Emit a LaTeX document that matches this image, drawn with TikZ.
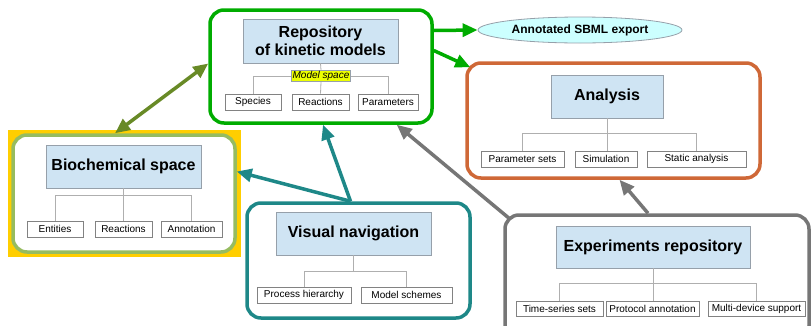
\documentclass[tikz,border=0pt]{standalone}
\usepackage{fontspec}
\setmainfont{Liberation Sans}
\usetikzlibrary{arrows.meta,shapes.geometric}
\definecolor{repogreen}{RGB}{0,172,0}
\definecolor{anaorange}{RGB}{207,104,55}
\definecolor{biogreen}{RGB}{150,188,96}
\definecolor{bioyellow}{RGB}{255,206,0}
\definecolor{navteal}{RGB}{30,136,136}
\definecolor{expgray}{RGB}{118,118,118}
\definecolor{olivearr}{RGB}{104,138,38}
\definecolor{headblue}{RGB}{207,228,243}
\definecolor{headline}{RGB}{150,160,170}
\definecolor{leafline}{RGB}{130,130,130}
\definecolor{treeline}{RGB}{175,175,175}
\definecolor{ellfill}{RGB}{204,255,255}
\definecolor{tagyellow}{RGB}{236,255,0}
\tikzset{
  frame/.style={draw,fill=white,rounded corners=14pt,line width=3.5pt,inner sep=0pt},
  headbox/.style={draw=headline,fill=headblue,line width=0.8pt,align=center,
                  font=\fontsize{16}{18}\selectfont\bfseries,inner sep=0pt},
  leaf/.style={draw=leafline,fill=white,line width=0.8pt,font=\fontsize{10}{12}\selectfont,
               inner sep=0pt,minimum height=16pt},
  tree/.style={draw=treeline,line width=0.8pt},
  link/.style={-{Triangle[length=15pt,width=13pt]},line width=3.5pt},
}

\begin{document}
\begin{tikzpicture}[x=1pt,y=-1pt]
\clip (0,0) rectangle (812,325);
% frames
\node[fill=bioyellow,minimum width=233pt,minimum height=127pt] (bioback) at (124.5,193.5) {};
\node[frame,draw=biogreen,minimum width=222pt,minimum height=117pt] (bio) at (124,193.5) {};
\node[frame,draw=repogreen,minimum width=222pt,minimum height=113pt] (repo) at (321,66.5) {};
\node[frame,draw=anaorange,minimum width=293pt,minimum height=115pt] (ana) at (613.5,120.5) {};
\node[frame,draw=navteal,minimum width=223pt,minimum height=115pt] (nav) at (358.5,260.5) {};
\node[frame,draw=expgray,minimum width=304pt,minimum height=125pt] (exp) at (657,277.5) {};
\node[ellipse,draw=headline,fill=ellfill,line width=0.8pt,minimum width=204pt,minimum height=26pt,
      inner sep=0pt,font=\fontsize{12}{14}\selectfont\bfseries] (sbml) at (580,30) {Annotated SBML export};
% repository of kinetic models
\node[headbox,minimum width=155pt,minimum height=44pt] (repot) at (320.5,41) {Repository\\of kinetic models};
\node[draw=headline,fill=tagyellow,line width=0.6pt,inner sep=1pt,minimum height=10pt,
      font=\fontsize{10}{12}\selectfont\itshape] (mspace) at (321,76) {Model space};
\node[leaf,minimum width=56pt] (spec) at (253,102) {Species};
\node[leaf,minimum width=57pt] (reac) at (320.5,102) {Reactions};
\node[leaf,minimum width=60pt] (par) at (388,102) {Parameters};
\draw[tree] (repot.south) -- (mspace.north);
\draw[tree] (mspace.south) -- (reac.north);
\draw[tree] (spec.north) |- (mspace.west);
\draw[tree] (par.north) |- (mspace.east);
% analysis
\node[headbox,minimum width=112pt,minimum height=43pt] (anat) at (607,96.5) {Analysis};
\node[leaf,minimum width=83pt] (psets) at (522.5,159) {Parameter sets};
\node[leaf,minimum width=62pt] (sim) at (606,159) {Simulation};
\node[leaf,minimum width=99pt] (stat) at (696.5,159) {Static analysis};
\draw[tree] (anat.south) -- (anat.south |- sim.north);
\draw[tree] (psets.north) -- ++(0,-17) -| (stat.north);
% biochemical space
\node[headbox,minimum width=155pt,minimum height=43pt] (biot) at (123.5,166.5) {Biochemical space};
\node[leaf,minimum width=56pt] (ent) at (55,229) {Entities};
\node[leaf,minimum width=57pt] (breac) at (123.5,229) {Reactions};
\node[leaf,minimum width=61pt] (annot) at (191.5,229) {Annotation};
\draw[tree] (biot.south) -- (breac.north);
\draw[tree] (ent.north) -- ++(0,-25) -| (annot.north);
% visual navigation
\node[headbox,minimum width=155pt,minimum height=43pt] (navt) at (353.5,233.5) {Visual navigation};
\node[leaf,minimum width=94pt] (phier) at (304,295) {Process hierarchy};
\node[leaf,minimum width=91pt] (msch) at (406.5,295) {Model schemes};
\draw[tree] (navt.south) -- ++(0,17);
\draw[tree] (phier.north) -- ++(0,-15) -| (msch.north);
% experiments repository
\node[headbox,minimum width=194pt,minimum height=42pt] (expt) at (653,247) {Experiments repository};
\node[leaf,minimum width=87pt,minimum height=15pt] (tser) at (559.5,308.5) {Time-series sets};
\node[leaf,minimum width=93pt,minimum height=15pt] (prot) at (652.5,308.5) {Protocol annotation};
\node[leaf,minimum width=97pt,minimum height=15pt] (mdev) at (756.5,308.5) {Multi-device support};
\draw[tree] (expt.south) -- (expt.south |- prot.north);
\draw[tree] (tser.north) -- ++(0,-17) -| (mdev.north);
% links
\draw[link,draw=repogreen,fill=repogreen] ([yshift=36pt]repo.east) -- (sbml.west);
\draw[link,draw=repogreen,fill=repogreen] ([yshift=16pt]repo.east) -- ([shift={(5pt,-6pt)}]ana.north west);
\draw[{Triangle[length=15pt,width=13pt]}-{Triangle[length=15pt,width=13pt]},line width=3.5pt,draw=olivearr,fill=olivearr]
  ([xshift=-9pt]bio.north) -- ([yshift=3pt]repo.west);
\draw[link,draw=navteal,fill=navteal] ([xshift=-8pt]nav.north) -- ([xshift=2pt]repo.south);
\draw[link,draw=navteal,fill=navteal] ([xshift=-8pt]nav.north) -- ([yshift=22pt]bio.east);
\draw[link,draw=expgray,fill=expgray] ([shift={(7pt,-6pt)}]exp.north west) -- ([xshift=-37pt]repo.south east);
\draw[link,draw=expgray,fill=expgray] ([xshift=-9pt]exp.north) -- ([xshift=6pt]ana.south);
\end{tikzpicture}
\end{document}
